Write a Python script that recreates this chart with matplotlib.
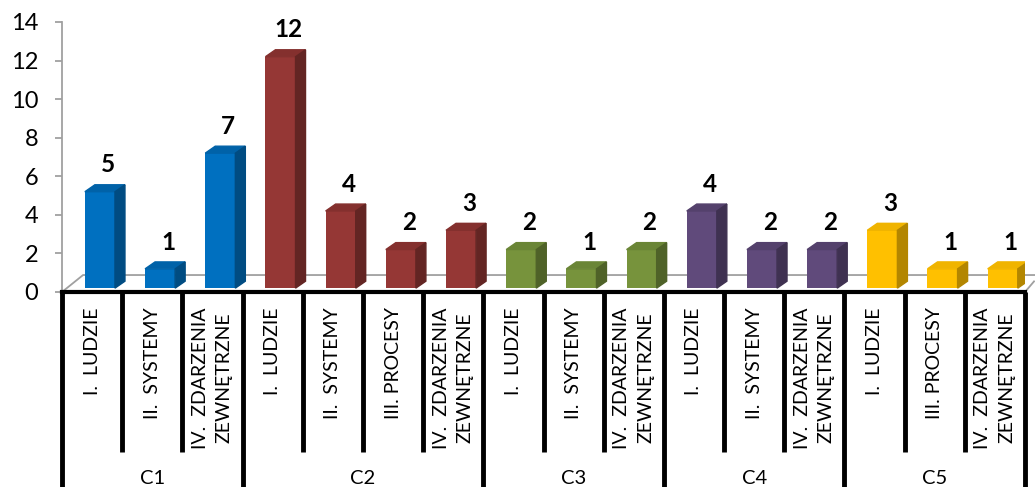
import matplotlib.pyplot as plt
from matplotlib.patches import Polygon

plt.rcParams['font.family'] = ['Lato', 'DejaVu Sans']

# Data
groups = ['C1', 'C2', 'C3', 'C4', 'C5']
group_sizes = [3, 4, 3, 3, 3]
categories = [
    'I.  LUDZIE', 'II.  SYSTEMY', 'IV.  ZDARZENIA\nZEWNĘTRZNE',
    'I.  LUDZIE', 'II.  SYSTEMY', 'III. PROCESY', 'IV.  ZDARZENIA\nZEWNĘTRZNE',
    'I.  LUDZIE', 'II.  SYSTEMY', 'IV.  ZDARZENIA\nZEWNĘTRZNE',
    'I.  LUDZIE', 'II.  SYSTEMY', 'IV.  ZDARZENIA\nZEWNĘTRZNE',
    'I.  LUDZIE', 'III. PROCESY', 'IV.  ZDARZENIA\nZEWNĘTRZNE',
]
values = [5, 1, 7, 12, 4, 2, 3, 2, 1, 2, 4, 2, 2, 3, 1, 1]

# front, top, side colours per group
front_cols = ['#0070C0', '#953735', '#77933C', '#604A7B', '#FFC000']
top_cols = ['#0062A8', '#84302E', '#6A8536', '#54416C', '#F0B400']
side_cols = ['#004C82', '#632523', '#4F6228', '#3F3151', '#B38600']

fig = plt.figure(figsize=(10.35, 4.87), dpi=100)
ax = fig.add_axes([62 / 1035, 195 / 487, 963 / 1035, 270 / 487])
ax.set_xlim(0, 16)
ax.set_ylim(0, 14)

# 3d look parameters (in data units)
base = 0.2
w = 0.5
off = 0.38
dx = 0.166
dy = 0.36

# floor of the 3d box
ax.plot([0, 0.35, 16.2], [0, 0.88, 0.88], color='#A0A0A0', lw=1.3, zorder=1, clip_on=False)
ax.plot([16, 16.15], [0, 0.55], color='#A0A0A0', lw=1.3, zorder=1, clip_on=False)

col_idx = []
for g, n in enumerate(group_sizes):
    col_idx += [g] * n

for i, v in enumerate(values):
    g = col_idx[i]
    x0 = i + off
    x1 = x0 + w
    top = base + v
    ax.bar(x0, v, width=w, bottom=base, align='edge', color=front_cols[g], zorder=3)
    ax.add_patch(Polygon([(x0, top), (x1, top), (x1 + dx, top + dy), (x0 + dx, top + dy)],
                         closed=True, color=top_cols[g], zorder=3))
    ax.add_patch(Polygon([(x1, base), (x1 + dx, base + dy), (x1 + dx, top + dy), (x1, top)],
                         closed=True, color=side_cols[g], zorder=3))
    ax.annotate(str(v), xy=(x0 + w / 2 + dx * 0.8, top + dy), xytext=(0, 6),
                textcoords='offset points', ha='center', va='bottom',
                fontsize=17.5, fontweight='bold', color='black')

# axes styling
for s in ['top', 'right']:
    ax.spines[s].set_visible(False)
ax.spines['left'].set_color('#A0A0A0')
ax.spines['left'].set_linewidth(1.3)
ax.spines['bottom'].set_color('black')
ax.spines['bottom'].set_linewidth(3)
ax.set_yticks(range(0, 15, 2))
ax.tick_params(axis='y', length=5, width=1.3, color='#A0A0A0', labelsize=17, pad=12)
ax.set_xticks([])

# multi-level category axis
xt = ax.get_xaxis_transform()
bounds = [0]
for n in group_sizes:
    bounds.append(bounds[-1] + n)
for i in range(17):
    y_end = -0.722 if i in bounds else -0.593
    ax.plot([i, i], [0, y_end], transform=xt, color='black', lw=3.5, clip_on=False,
            solid_capstyle='butt')

for i, lab in enumerate(categories):
    ax.annotate(lab, xy=(i + 0.5, 0), xycoords=xt, xytext=(0, -11), textcoords='offset points',
                rotation=90, ha='center', va='top', multialignment='center',
                fontsize=14, linespacing=1.5, annotation_clip=False)

for g, name in enumerate(groups):
    xc = (bounds[g] + bounds[g + 1]) / 2
    ax.text(xc, -0.69, name, transform=xt, ha='center', va='center', fontsize=14.5)

fig.savefig('out.png', dpi=100)
